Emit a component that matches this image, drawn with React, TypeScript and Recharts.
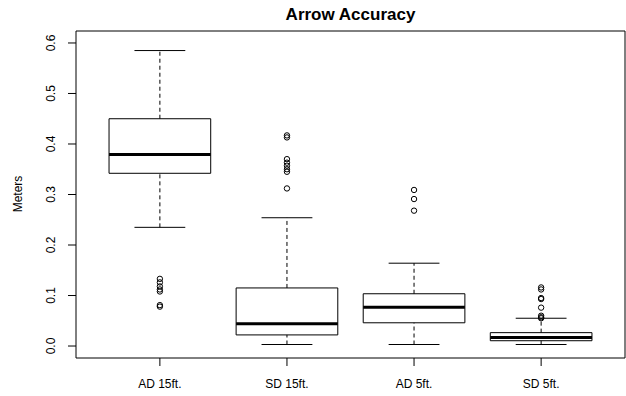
import { ScatterChart, Scatter, XAxis, YAxis, ReferenceArea, ReferenceLine } from 'recharts';

const categories = ['AD 15ft.', 'SD 15ft.', 'AD 5ft.', 'SD 5ft.'];
const whiskerLow = [0.235, 0.003, 0.003, 0.003];
const q1 = [0.342, 0.022, 0.046, 0.0105];
const medians = [0.379, 0.044, 0.077, 0.017];
const q3 = [0.45, 0.115, 0.1035, 0.0265];
const whiskerHigh = [0.585, 0.254, 0.164, 0.055];
const outliers = [
  [0.133, 0.126, 0.118, 0.112, 0.108, 0.081, 0.078],
  [0.417, 0.413, 0.37, 0.363, 0.357, 0.35, 0.345, 0.312],
  [0.309, 0.291, 0.268],
  [0.116, 0.112, 0.095, 0.093, 0.076, 0.06, 0.057, 0.055],
];
const yTicks = [0, 0.1, 0.2, 0.3, 0.4, 0.5, 0.6];

const X_DOMAIN: [number, number] = [0.34, 4.66];
const Y_DOMAIN: [number, number] = [-0.0237, 0.6237];
const BOX_HALF = 0.4;
const CAP_HALF = 0.2;
const FONT = '"Liberation Sans", Arial, sans-serif';

const outlierData = outliers.flatMap((vals, i) => vals.map((v) => ({ x: i + 1, y: v })));

function OpenCircle(props: any) {
  const { cx, cy } = props;
  return <circle cx={cx} cy={cy} r={2.7} fill="none" stroke="#000" strokeWidth={1} />;
}

function XTick(props: any) {
  const { x, y, payload } = props;
  return (
    <text x={x} y={y + 20} textAnchor="middle" fontSize={12} fontFamily={FONT} fill="#000">
      {categories[payload.value - 1]}
    </text>
  );
}

function YTick(props: any) {
  const { x, y, payload } = props;
  const tx = x - 11;
  return (
    <text
      x={tx}
      y={y}
      transform={`rotate(-90 ${tx} ${y})`}
      textAnchor="middle"
      fontSize={12}
      fontFamily={FONT}
      fill="#000"
    >
      {payload.value.toFixed(1)}
    </text>
  );
}

export default function App() {
  return (
    <div style={{ position: 'absolute', left: 0, top: 0, width: 626, height: 396, background: '#fff' }}>
      <ScatterChart width={626} height={396} margin={{ top: 31, right: 1, bottom: 0, left: 0 }}>
        <XAxis
          type="number"
          dataKey="x"
          domain={X_DOMAIN}
          ticks={[1, 2, 3, 4]}
          allowDataOverflow
          axisLine={false}
          tickLine={{ stroke: '#000' }}
          tickSize={8}
          height={38}
          tick={<XTick />}
        />
        <YAxis
          type="number"
          dataKey="y"
          domain={Y_DOMAIN}
          ticks={yTicks}
          allowDataOverflow
          axisLine={false}
          tickLine={{ stroke: '#000' }}
          tickSize={8}
          width={76}
          tick={<YTick />}
        />
        <ReferenceArea
          x1={X_DOMAIN[0]}
          x2={X_DOMAIN[1]}
          y1={Y_DOMAIN[0]}
          y2={Y_DOMAIN[1]}
          fill="none"
          stroke="#000"
          strokeWidth={1}
          ifOverflow="visible"
        />
        {categories.map((c, i) => {
          const x = i + 1;
          return [
            <ReferenceLine
              key={`wu${c}`}
              segment={[{ x, y: q3[i] }, { x, y: whiskerHigh[i] }]}
              stroke="#000"
              strokeDasharray="4 3"
              ifOverflow="visible"
            />,
            <ReferenceLine
              key={`wl${c}`}
              segment={[{ x, y: whiskerLow[i] }, { x, y: q1[i] }]}
              stroke="#000"
              strokeDasharray="4 3"
              ifOverflow="visible"
            />,
            <ReferenceLine
              key={`cu${c}`}
              segment={[{ x: x - CAP_HALF, y: whiskerHigh[i] }, { x: x + CAP_HALF, y: whiskerHigh[i] }]}
              stroke="#000"
              ifOverflow="visible"
            />,
            <ReferenceLine
              key={`cl${c}`}
              segment={[{ x: x - CAP_HALF, y: whiskerLow[i] }, { x: x + CAP_HALF, y: whiskerLow[i] }]}
              stroke="#000"
              ifOverflow="visible"
            />,
            <ReferenceArea
              key={`b${c}`}
              x1={x - BOX_HALF}
              x2={x + BOX_HALF}
              y1={q1[i]}
              y2={q3[i]}
              fill="#fff"
              fillOpacity={1}
              stroke="#000"
              strokeWidth={1}
              ifOverflow="visible"
            />,
            <ReferenceLine
              key={`m${c}`}
              segment={[{ x: x - BOX_HALF, y: medians[i] }, { x: x + BOX_HALF, y: medians[i] }]}
              stroke="#000"
              strokeWidth={3}
              ifOverflow="visible"
            />,
          ];
        })}
        <Scatter data={outlierData} shape={<OpenCircle />} isAnimationActive={false} />
        <text x={350.5} y={19.5} textAnchor="middle" fontSize={17} fontWeight="bold" fontFamily={FONT} fill="#000">
          Arrow Accuracy
        </text>
        <text
          x={22}
          y={194}
          transform="rotate(-90 22 194)"
          textAnchor="middle"
          fontSize={12}
          fontFamily={FONT}
          fill="#000"
        >
          Meters
        </text>
      </ScatterChart>
    </div>
  );
}
